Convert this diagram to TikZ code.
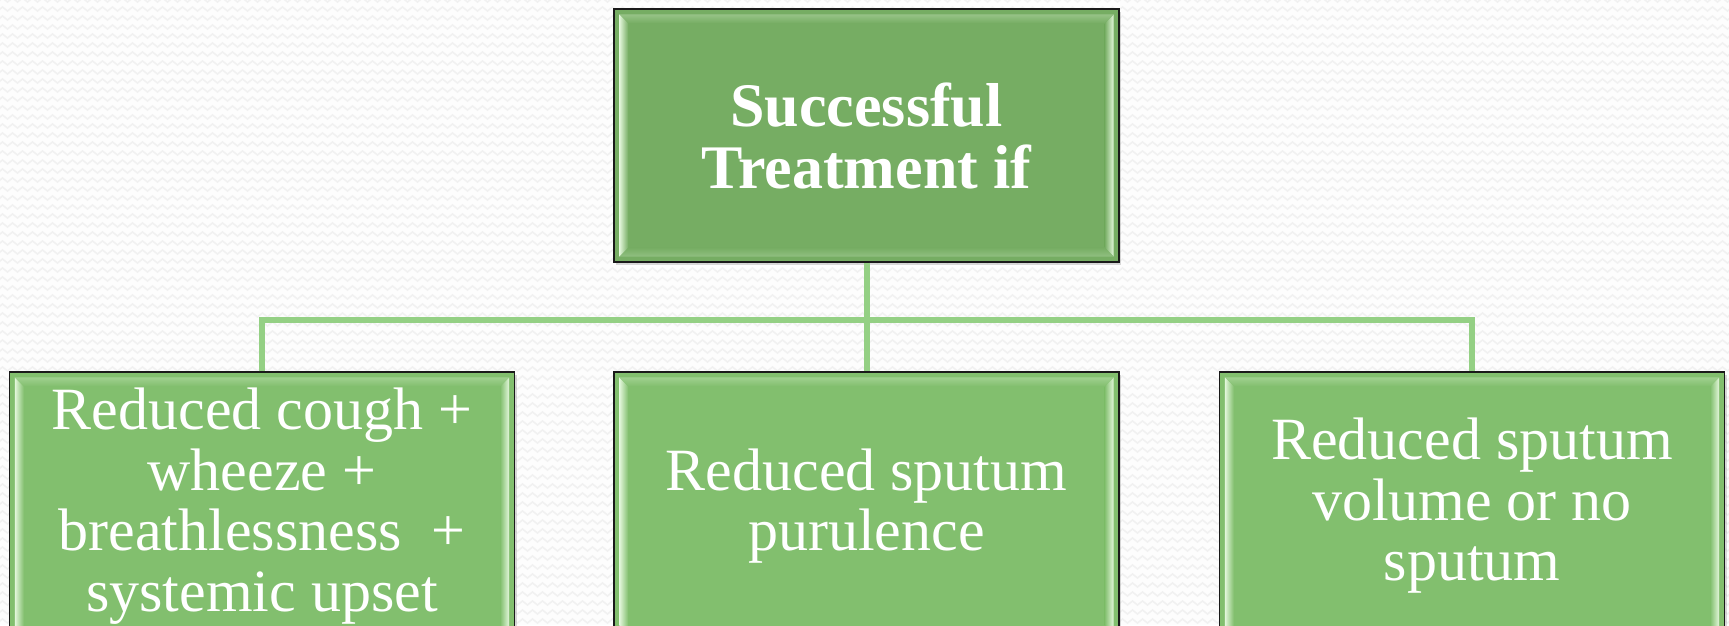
\documentclass[tikz,border=0pt]{standalone}
\usepackage{fontspec}
\setmainfont{Liberation Serif}
\usetikzlibrary{calc,shadows,decorations.pathmorphing}

\definecolor{pagebg}{HTML}{FDFDFD}
\definecolor{zigline}{HTML}{F1F1F1}
\definecolor{headfill}{HTML}{76AD63}
\definecolor{itemfill}{HTML}{82BF6E}
\definecolor{bevlight}{HTML}{E4F7DC}
\definecolor{linkgreen}{HTML}{94D084}

\tikzset{
  card/.style={rectangle, draw=black!90, line width=1.4pt, inner sep=0pt,
    minimum width=505pt, text=white, align=center,
    drop shadow={shadow xshift=2pt, shadow yshift=-3pt, opacity=0.3}},
  headcard/.style={card, fill=headfill, minimum height=253pt},
  itemcard/.style={card, fill=itemfill, minimum height=268pt},
  headtext/.style={text=white, align=center, inner sep=0pt,
    font=\bfseries\fontsize{62}{62}\selectfont},
  itemtext/.style={text=white, align=center, inner sep=0pt,
    font=\fontsize{60}{60.5}\selectfont},
  link/.style={draw=linkgreen, line width=6pt, line join=miter}
}

% light bevelled strips along the inner edges of a card
\newcommand\cardbevel[2]{%
  \path[left color=bevlight, right color=#2]
    ($(#1.north west)+(6,6)$) -- ($(#1.north west)+(15,15)$) --
    ($(#1.south west)+(15,-15)$) -- ($(#1.south west)+(6,-6)$) -- cycle;
  \path[left color=#2, right color=bevlight]
    ($(#1.north east)+(-6,6)$) -- ($(#1.north east)+(-15,15)$) --
    ($(#1.south east)+(-15,-15)$) -- ($(#1.south east)+(-6,-6)$) -- cycle;
  \path[top color=bevlight!30!#2, bottom color=#2]
    ($(#1.north west)+(6,6)$) -- ($(#1.north east)+(-6,6)$) --
    ($(#1.north east)+(-15,15)$) -- ($(#1.north west)+(15,15)$) -- cycle;
  \path[top color=#2, bottom color=bevlight!25!#2]
    ($(#1.south west)+(6,-6)$) -- ($(#1.south east)+(-6,-6)$) --
    ($(#1.south east)+(-15,-15)$) -- ($(#1.south west)+(15,-15)$) -- cycle;
}

\begin{document}
\begin{tikzpicture}[x=1pt, y=-1pt]
  \useasboundingbox (0,0) rectangle (1729,625);
  \begin{scope}
    \clip (0,0) rectangle (1729,625);
    \fill[pagebg] (0,0) rectangle (1729,625);
    % faint zigzag texture of the page
    \foreach \r in {0,9,...,630}
      \draw[zigline, line width=1.6pt, decorate,
            decoration={zigzag, segment length=10pt, amplitude=2pt}]
        (-10,\r) -- (1740,\r);

    % cards
    \node[headcard] (head) at (866.5,135.5) {};
    \node[itemcard] (cough) at (262,506) {};
    \node[itemcard] (purul) at (866.5,506) {};
    \node[itemcard] (volume) at (1472,506) {};

    \cardbevel{head}{headfill}
    \cardbevel{cough}{itemfill}
    \cardbevel{purul}{itemfill}
    \cardbevel{volume}{itemfill}

    % card texts
    \node[headtext] (headtxt) at (head.center) {Successful\\Treatment if};
    \node[itemtext] (coughtxt) at (cough.center)
      {Reduced cough +\\wheeze +\\breathlessness\ \ +\\systemic upset};
    \node[itemtext] (purultxt) at (purul.center) {Reduced sputum\\purulence};
    \node[itemtext] (volumetxt) at (volume.center)
      {Reduced sputum\\volume or no\\sputum};

    % connectors
    \draw[link] (cough.north) -- ++(0,-51) -| (volume.north);
    \draw[link] (head.south) -- (purul.north);
  \end{scope}
\end{tikzpicture}
\end{document}
